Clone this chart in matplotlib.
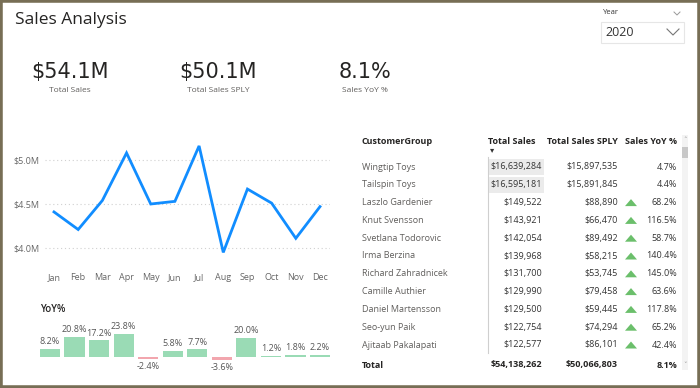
import numpy as np
import matplotlib
matplotlib.use("Agg")
import matplotlib.pyplot as plt
from matplotlib.patches import Rectangle, Polygon
from matplotlib.lines import Line2D

# ---- data ----
months = ["Jan", "Feb", "Mar", "Apr", "May", "Jun", "Jul", "Aug", "Sep", "Oct", "Nov", "Dec"]
monthly_sales = [4.41, 4.21, 4.54, 5.08, 4.50, 4.53, 5.16, 3.95, 4.67, 4.51, 4.11, 4.47]  # $M
yoy_pct = [8.2, 20.8, 17.2, 23.8, -2.4, 5.8, 7.7, -3.6, 20.0, 1.2, 1.8, 2.2]
y_ticks = [4.0, 4.5, 5.0]

kpi_values = ["$54.1M", "$50.1M", "8.1%"]
kpi_labels = ["Total Sales", "Total Sales SPLY", "Sales YoY %"]

columns = ["CustomerGroup", "Total Sales", "Total Sales SPLY", "Sales YoY %"]
customers = ["Wingtip Toys", "Tailspin Toys", "Laszlo Gardenier", "Knut Svensson",
             "Svetlana Todorovic", "Irma Berzina", "Richard Zahradnicek", "Camille Authier",
             "Daniel Martensson", "Seo-yun Paik", "Ajitaab Pakalapati"]
total_sales = [16639284, 16595181, 149522, 143921, 142054, 139968, 131700, 129990,
               129500, 122754, 122577]
sales_sply = [15897535, 15891845, 88890, 66470, 89492, 58215, 53745, 79458,
              59445, 74294, 86101]
sales_yoy = [4.7, 4.4, 68.2, 116.5, 58.7, 140.4, 145.0, 63.6, 117.8, 65.2, 42.4]
total_row = ["Total", 54138262, 50066803, 8.1]

W, H = 700, 388
FONT = "Open Sans"

fig = plt.figure(figsize=(W / 100, H / 100), dpi=100)
fig.patch.set_facecolor("white")


def fx(x):
    return x / W


def fy(y):
    return 1 - y / H


def txt(x, y, s, **kw):
    kw.setdefault("family", FONT)
    kw.setdefault("va", "center")
    fig.text(fx(x), fy(y), s, **kw)


def px_axes(left, top, right, bottom):
    return fig.add_axes([fx(left), fy(bottom), (right - left) / W, (bottom - top) / H])


# outer frame
fig.patches.append(Rectangle((0, 0), 1, 1, transform=fig.transFigure, fill=False,
                             edgecolor="#776E55", linewidth=4))

# title
txt(15, 20, "Sales Analysis", fontsize=12.5, color="#252423")

# year slicer
txt(603, 13, "Year", fontsize=5.5, color="#333333")
fig.lines.append(Line2D([fx(674), fx(677), fx(680)], [fy(12), fy(15), fy(12)],
                        transform=fig.transFigure, color="#999999", lw=0.7))
fig.patches.append(Rectangle((fx(601), fy(43)), 83 / W, 21 / H, transform=fig.transFigure,
                             fill=False, edgecolor="#E6E6E6", lw=0.8))
txt(605, 33, "2020", fontsize=9, color="#333333")
fig.lines.append(Line2D([fx(667), fx(673), fx(679)], [fy(29), fy(35), fy(29)],
                        transform=fig.transFigure, color="#777777", lw=0.8))

# KPI cards
for cx, val, lab in zip([70, 218, 365], kpi_values, kpi_labels):
    txt(cx, 72, val, fontsize=15, color="#252423", ha="center", family="DejaVu Sans")
    txt(cx, 91, lab, fontsize=6, color="#605E5C", ha="center")

# monthly sales line
ax = px_axes(45, 135, 330, 262)
x = np.arange(len(months))
ax.plot(x, monthly_sales, color="#118DFF", lw=2, solid_joinstyle="miter")
ax.set_xlim(-9 / 24.18, 11 + 10 / 24.18)
ax.set_ylim(4.0 - 14 / 88, 5.0 + 25 / 88)
for v in y_ticks:
    ax.axhline(v, color="#D0D0D0", lw=0.8, ls=(0, (1, 2.5)), zorder=0)
ax.set_yticks(y_ticks)
ax.set_yticklabels(["$%.1fM" % v for v in y_ticks])
ax.set_xticks(x)
ax.set_xticklabels(months)
ax.tick_params(length=0, labelsize=6.5, labelcolor="#666666", pad=4)
ax.tick_params(axis="x", pad=8)
for lbl in ax.get_xticklabels() + ax.get_yticklabels():
    lbl.set_family(FONT)
for s in ax.spines.values():
    s.set_visible(False)

# YoY% bars
txt(40, 309, "YoY%", fontsize=7, color="#252423", weight="semibold")
bx = px_axes(35, 320, 335, 380)
colors = ["#9ADBB5" if v >= 0 else "#F2A6AE" for v in yoy_pct]
bx.bar(x, yoy_pct, width=0.82, color=colors)
bx.set_xlim(-15 / 24.55, 11 + 15 / 24.55)
bx.set_ylim(-(380 - 356.7) / 0.954, (356.7 - 320) / 0.954)
for xi, v in zip(x, yoy_pct):
    if v >= 0:
        bx.annotate("%.1f%%" % v, (xi, v), xytext=(0, 2), textcoords="offset points",
                    ha="center", va="bottom", fontsize=6.5, color="#555555", family=FONT)
    else:
        bx.annotate("%.1f%%" % v, (xi, v), xytext=(0, -2), textcoords="offset points",
                    ha="center", va="top", fontsize=6.5, color="#555555", family=FONT)
bx.axis("off")

# table
hdr_y = 142
txt(362, hdr_y, columns[0], fontsize=6.5, weight="bold", color="#252423")
txt(535, hdr_y, columns[1], fontsize=6.5, weight="bold", color="#252423", ha="right")
txt(618, hdr_y, columns[2], fontsize=6.5, weight="bold", color="#252423", ha="right")
txt(677, hdr_y, columns[3], fontsize=6.5, weight="bold", color="#252423", ha="right")
txt(492, 150, "▾", fontsize=6, color="#333333", ha="center", family="DejaVu Sans")

fig.lines.append(Line2D([fx(488), fx(488)], [fy(157), fy(353)], transform=fig.transFigure,
                        color="#CFCFCF", lw=0.8))

row_y0, row_h = 167, 17.8
for i, name in enumerate(customers):
    y = row_y0 + i * row_h
    if i < 2:
        fig.patches.append(Rectangle((fx(489), fy(y + 8)), 55 / W, 16 / H,
                                     transform=fig.transFigure, color="#EBEBEB", lw=0))
    txt(362, y, name, fontsize=6.5, color="#605E5C")
    txt(542, y, "${:,}".format(total_sales[i]), fontsize=6.5, color="#333333", ha="right")
    txt(618, y, "${:,}".format(sales_sply[i]), fontsize=6.5, color="#333333", ha="right")
    txt(677, y, "%.1f%%" % sales_yoy[i], fontsize=6.5, color="#333333", ha="right")
    if sales_yoy[i] > 10:
        tri = [(fx(625), fy(y + 3.5)), (fx(637), fy(y + 3.5)), (fx(631), fy(y - 3.5))]
        fig.patches.append(Polygon(tri, closed=True, transform=fig.transFigure,
                                   color="#6BBF6B", lw=0))

ty = 365
txt(362, ty, total_row[0], fontsize=6.5, weight="bold", color="#252423")
txt(542, ty, "${:,}".format(total_row[1]), fontsize=6.5, weight="bold", color="#252423", ha="right")
txt(618, ty, "${:,}".format(total_row[2]), fontsize=6.5, weight="bold", color="#252423", ha="right")
txt(677, ty, "%.1f%%" % total_row[3], fontsize=6.5, weight="bold", color="#252423", ha="right")

# scrollbar
fig.patches.append(Rectangle((fx(682), fy(370)), 6 / W, 235 / H, transform=fig.transFigure,
                             color="#F3F3F3", lw=0))
fig.patches.append(Rectangle((fx(682), fy(158)), 6 / W, 11 / H, transform=fig.transFigure,
                             color="#C8C8C8", lw=0))
txt(685, 140, "˄", fontsize=5, color="#999999", ha="center", family="DejaVu Sans")
txt(685, 365, "˅", fontsize=5, color="#999999", ha="center", family="DejaVu Sans")

fig.savefig("out.png", dpi=100)
